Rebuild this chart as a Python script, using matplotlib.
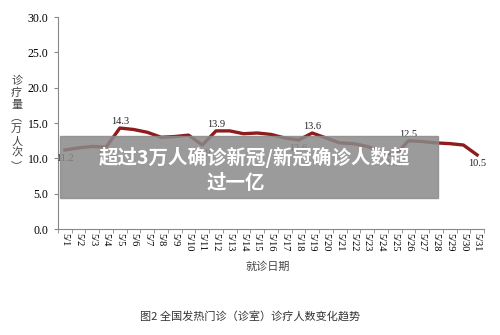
import numpy as np
import matplotlib.pyplot as plt

serif = ['Liberation Serif', 'DejaVu Serif']
cjk = ['Noto Sans CJK SC', 'DejaVu Sans']

dates = ['5/%d' % d for d in range(1, 32)]
visits = [11.2, 11.5, 11.7, 11.6, 14.3, 14.1, 13.7, 13.0, 13.1, 13.3, 11.9,
          13.9, 13.9, 13.5, 13.6, 13.4, 12.9, 12.6, 13.6, 12.9, 12.2, 12.1,
          11.7, 11.0, 10.4, 12.5, 12.4, 12.2, 12.1, 11.9, 10.5]
# (index, above?) for the point labels
marked = [(0, False), (3, False), (4, True), (10, False), (11, True),
          (17, False), (18, True), (24, False), (25, True), (30, False)]

fig = plt.figure(figsize=(5, 3.35), dpi=100)
ax = fig.add_axes([0.116, 0.316, 0.852, 0.633])

x = np.arange(len(dates))
ax.plot(x, visits, color='#8e1c1c', lw=2.4, solid_joinstyle='round')

for i, above in marked:
    off = 0.9 if above else -1.15
    ax.text(x[i], visits[i] + off, '%.1f' % visits[i], ha='center',
            va='center', fontsize=7.5, color='#222222', family=serif)

ax.set_xlim(-0.5, len(dates) - 0.5)
ax.set_ylim(0, 30)
ax.set_yticks(np.arange(0, 31, 5))
ax.set_yticklabels(['%.1f' % v for v in np.arange(0, 31, 5)], fontsize=8.5,
                   family=serif)
ax.set_xticks(x)
ax.set_xticklabels(dates, rotation=270, fontsize=7.5, family=serif)
ax.set_xticks(np.arange(-0.5, len(dates), 1), minor=True)
ax.tick_params(axis='x', which='major', length=0, pad=3)
ax.tick_params(axis='x', which='minor', length=3, color='#888888', direction='out')
ax.tick_params(axis='y', length=3, color='#888888', pad=4)
for s in ['top', 'right']:
    ax.spines[s].set_visible(False)
for s in ['left', 'bottom']:
    ax.spines[s].set_color('#888888')
    ax.spines[s].set_linewidth(0.8)

ax.text(-0.097, 0.5, '诊\n疗\n量\n︵\n万\n人\n次\n︶', transform=ax.transAxes,
        ha='center', va='center', fontsize=8, color='#444444', family=cjk,
        linespacing=1.25)
fig.text(0.535, 0.205, '就诊日期', ha='center', va='center', fontsize=8,
         color='#444444', family=cjk)
fig.text(0.5, 0.057, '图2 全国发热门诊（诊室）诊疗人数变化趋势', ha='center',
         va='center', fontsize=8, color='#333333', family=cjk)

# grey banner across the chart
fig.patches.append(plt.Rectangle((0.12, 0.41), 0.756, 0.185,
                                 transform=fig.transFigure, color='#8a8a8a',
                                 alpha=0.85, zorder=5))
fig.text(0.508, 0.531, '超过3万人确诊新冠/新冠确诊人数超', ha='center',
         va='center', fontsize=14, color='white', weight='bold',
         family=cjk, zorder=6)
fig.text(0.471, 0.452, '过一亿', ha='center', va='center', fontsize=14,
         color='white', weight='bold', family=cjk, zorder=6)

fig.savefig('out.png', dpi=100)
